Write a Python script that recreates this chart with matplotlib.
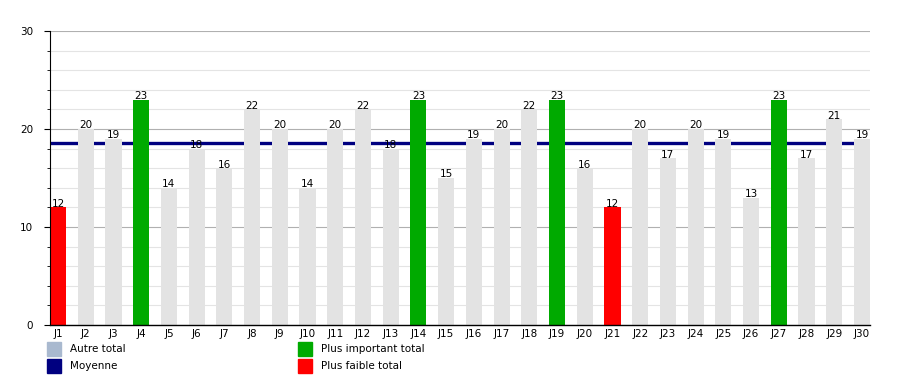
import numpy as np
import matplotlib.pyplot as plt
from matplotlib.patches import Rectangle

days = ["J%d" % i for i in range(1, 31)]
totals = [12, 20, 19, 23, 14, 18, 16, 22, 20, 14, 20, 22, 18, 23, 15,
          19, 20, 22, 23, 16, 12, 20, 17, 20, 19, 13, 23, 17, 21, 19]

legend_labels = ["Autre total", "Moyenne", "Plus important total", "Plus faible total"]

mean_total = np.mean(totals)
max_total = max(totals)
min_total = min(totals)

grey = "#e3e3e3"
green = "#00aa00"
red = "#ff0000"
navy = "#000080"

colors = []
for v in totals:
    if v == max_total:
        colors.append(green)
    elif v == min_total:
        colors.append(red)
    else:
        colors.append(grey)

fig = plt.figure(figsize=(9, 3.75), dpi=100)
ax = fig.add_axes([50 / 900, 50 / 375, 820 / 900, 294 / 375])

x = np.arange(len(days))
w = 0.58

# grid
ax.set_ylim(0, 30)
ax.set_yticks([0, 10, 20, 30])
ax.set_yticks(np.arange(0, 31, 2), minor=True)
ax.grid(axis="y", which="major", color="#b0b0b0", linewidth=0.8, zorder=0)
ax.grid(axis="y", which="minor", color="#e4e4e4", linewidth=0.8, zorder=0)

# average line behind bars
ax.axhline(mean_total, color=navy, linewidth=2.4, zorder=1)

ax.bar(x, totals, width=w, color=colors, zorder=2)
for xi, v in zip(x, totals):
    ax.text(xi, v - 0.15, str(v), ha="center", va="bottom", fontsize=7.5, zorder=3)

ax.set_xlim(-w / 2, len(days) - 1 + w / 2)
ax.set_xticks(x)
ax.set_xticklabels(days)
ax.tick_params(axis="x", length=0, labelsize=7.5, pad=3)
ax.tick_params(axis="y", which="major", length=4, labelsize=7.5, pad=8)
ax.tick_params(axis="y", which="minor", length=2.5)

for s in ["top", "right"]:
    ax.spines[s].set_visible(False)
ax.spines["left"].set_linewidth(0.8)
ax.spines["bottom"].set_linewidth(1.0)

# legend
sw = 14 / 900
sh = 14 / 375
items = [
    (47, 349, "#a9b9cf", legend_labels[0]),
    (47, 366, navy, legend_labels[1]),
    (298, 349, green, legend_labels[2]),
    (298, 366, red, legend_labels[3]),
]
for px, py, c, lab in items:
    fig.patches.append(Rectangle((px / 900, 1 - (py + 7) / 375), sw, sh,
                                 transform=fig.transFigure, color=c))
    fig.text((px + 23) / 900, 1 - py / 375, lab, fontsize=7.5, va="center", ha="left")

fig.savefig("out.png", dpi=100)
